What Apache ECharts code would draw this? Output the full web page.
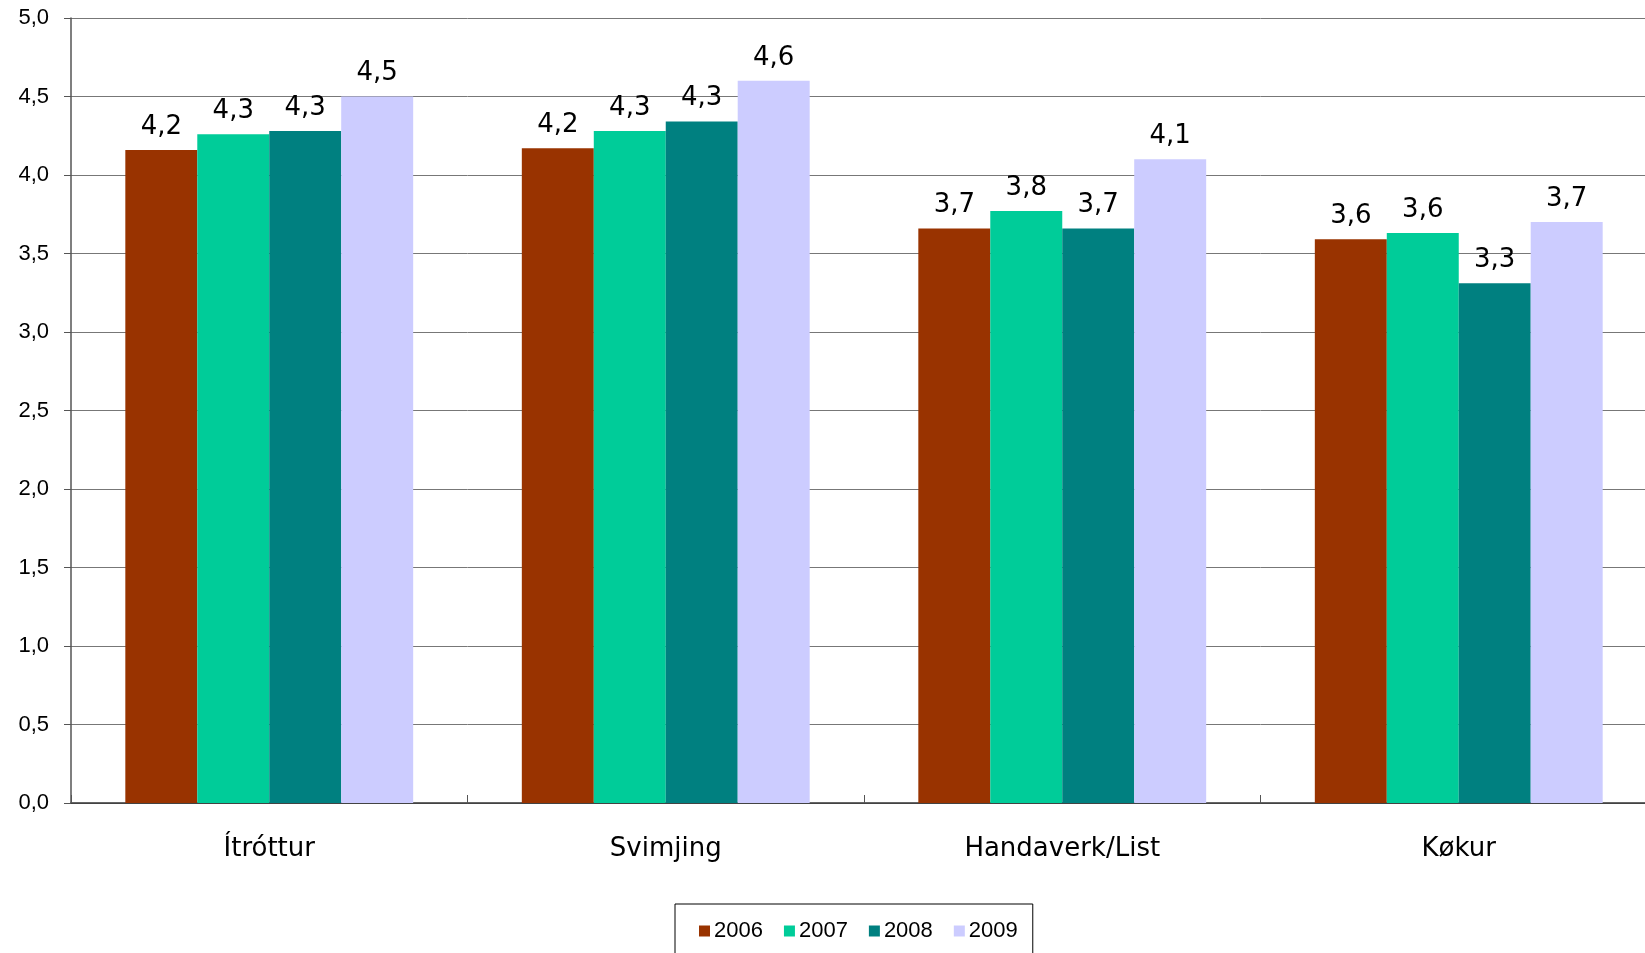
<!DOCTYPE html>
<html>
<head>
<meta charset="utf-8">
<script src="https://cdn.jsdelivr.net/npm/echarts@6/dist/echarts.min.js"></script>
<style>
html,body{margin:0;padding:0;background:#fff;overflow:hidden;width:1645px;height:953px;}
#chart{width:1657px;height:953px;}
</style>
</head>
<body>
<div id="chart"></div>
<script>
const categories = ['Ítróttur', 'Svimjing', 'Handaverk/List', 'Køkur'];
const years = ['2006', '2007', '2008', '2009'];
const v2006 = [4.16, 4.17, 3.66, 3.59];
const v2007 = [4.26, 4.28, 3.77, 3.63];
const v2008 = [4.28, 4.34, 3.66, 3.31];
const v2009 = [4.50, 4.60, 4.10, 3.70];
const colors = ['#993300', '#00CC99', '#008080', '#CCCCFF'];
const seriesValues = [v2006, v2007, v2008, v2009];

const fmt = v => Number(v).toFixed(1).replace('.', ',');

const chart = echarts.init(document.getElementById('chart'));
chart.setOption({
  animation: false,
  backgroundColor: '#fff',
  grid: { left: 71, top: 18, right: 0, height: 785 },
  legend: {
    data: years,
    left: 675,
    top: 904,
    orient: 'horizontal',
    padding: [16, 15, 15, 24],
    borderColor: '#000',
    borderWidth: 1,
    itemWidth: 11,
    itemHeight: 11,
    itemGap: 21,
    icon: 'rect',
    textStyle: { fontFamily: 'Liberation Sans, Arial, sans-serif', fontSize: 22, color: '#000', padding: [0, 0, 0, -1] }
  },
  xAxis: {
    type: 'category',
    data: categories,
    axisLine: { lineStyle: { color: '#333', width: 1.5 } },
    axisTick: { show: true, inside: true, length: 8, lineStyle: { color: '#555' } },
    axisLabel: { fontFamily: 'DejaVu Sans, Verdana, sans-serif', fontSize: 26, color: '#000', margin: 33 },
    splitLine: { show: false }
  },
  yAxis: {
    type: 'value',
    min: 0,
    max: 5,
    interval: 0.5,
    axisLine: { show: true, lineStyle: { color: '#555', width: 1.5 } },
    axisTick: { show: true, inside: false, length: 7, lineStyle: { color: '#555' } },
    axisLabel: { fontFamily: 'Liberation Sans, Arial, sans-serif', fontSize: 22, color: '#000', margin: 22, formatter: fmt },
    splitLine: { show: true, lineStyle: { color: '#777', width: 1 } }
  },
  series: years.map((y, i) => ({
    name: y,
    type: 'bar',
    data: seriesValues[i],
    barGap: '0%',
    barCategoryGap: '27.4%',
    itemStyle: { color: colors[i] },
    label: {
      show: true,
      position: 'top',
      distance: 10,
      fontFamily: 'DejaVu Sans, Verdana, sans-serif',
      fontSize: 26,
      color: '#000',
      formatter: p => fmt(p.value)
    }
  }))
});
</script>
</body>
</html>
